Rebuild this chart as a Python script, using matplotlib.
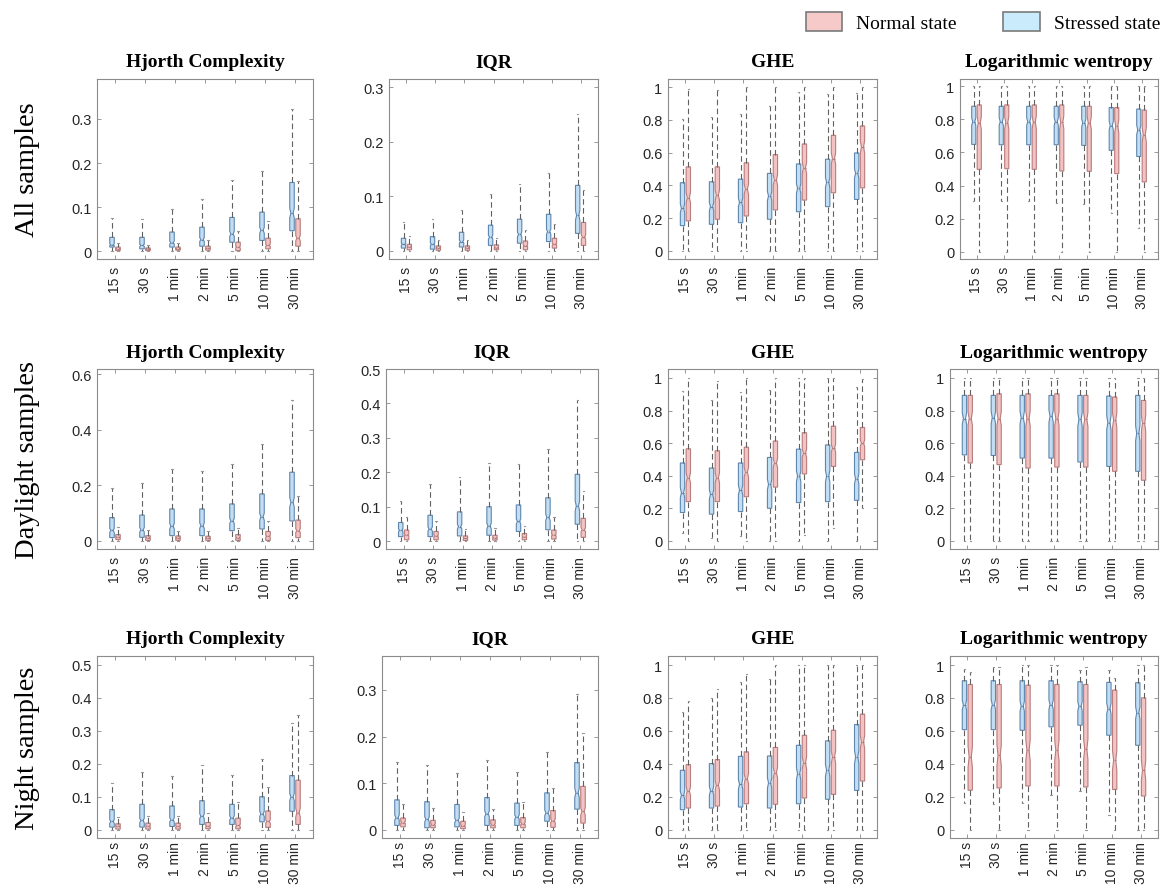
import matplotlib.pyplot as plt
from matplotlib.patches import Patch

groups = ['15 s', '30 s', '1 min', '2 min', '5 min', '10 min', '30 min']
titles = ['Hjorth Complexity', 'IQR', 'GHE', 'Logarithmic wentropy']
row_names = ['All samples', 'Daylight samples', 'Night samples']

# one row per window: [whisker low, q1, median, q3, whisker high]
all_hjorth_stressed = [[0, 0.010, 0.015, 0.032, 0.075], [0, 0.006, 0.014, 0.032, 0.074],
                       [0, 0.010, 0.020, 0.044, 0.096], [0, 0.012, 0.027, 0.055, 0.119],
                       [0, 0.021, 0.040, 0.077, 0.162], [0, 0.025, 0.048, 0.089, 0.181],
                       [0, 0.047, 0.087, 0.156, 0.322]]
all_hjorth_normal = [[0, 0.002, 0.006, 0.010, 0.020], [0, 0.002, 0.005, 0.008, 0.015],
                     [0, 0.003, 0.006, 0.010, 0.020], [0, 0.003, 0.007, 0.012, 0.025],
                     [0, 0.002, 0.010, 0.021, 0.046], [0, 0.006, 0.014, 0.030, 0.070],
                     [0, 0.012, 0.030, 0.074, 0.160]]
all_iqr_stressed = [[0, 0.005, 0.012, 0.023, 0.052], [0, 0.003, 0.012, 0.026, 0.058],
                    [0, 0.007, 0.017, 0.034, 0.075], [0, 0.010, 0.025, 0.047, 0.105],
                    [0, 0.014, 0.030, 0.058, 0.122], [0, 0.017, 0.035, 0.067, 0.142],
                    [0, 0.032, 0.065, 0.120, 0.250]]
all_iqr_normal = [[0, 0.002, 0.007, 0.012, 0.027], [0, 0.001, 0.005, 0.009, 0.020],
                  [0, 0.001, 0.005, 0.009, 0.020], [0, 0.002, 0.006, 0.011, 0.024],
                  [0, 0.002, 0.009, 0.018, 0.038], [0, 0.005, 0.012, 0.023, 0.050],
                  [0, 0.010, 0.025, 0.052, 0.111]]
all_ghe_stressed = [[0, 0.154, 0.260, 0.416, 0.807], [0, 0.162, 0.270, 0.422, 0.817],
                    [0, 0.172, 0.296, 0.438, 0.838], [0, 0.193, 0.335, 0.473, 0.888],
                    [0, 0.239, 0.381, 0.531, 0.970], [0, 0.270, 0.418, 0.560, 0.960],
                    [0, 0.314, 0.473, 0.598, 0.966]]
all_ghe_normal = [[0, 0.183, 0.325, 0.513, 0.990], [0, 0.193, 0.340, 0.513, 0.980],
                  [0, 0.213, 0.377, 0.538, 1.0], [0, 0.250, 0.432, 0.588, 1.0],
                  [0, 0.310, 0.507, 0.653, 1.0], [0, 0.355, 0.564, 0.706, 1.0],
                  [0, 0.385, 0.635, 0.763, 1.0]]
all_logw_stressed = [[0.307, 0.649, 0.787, 0.880, 1.0], [0.305, 0.647, 0.787, 0.880, 1.0],
                     [0.307, 0.647, 0.787, 0.880, 1.0], [0.297, 0.647, 0.787, 0.880, 1.0],
                     [0.291, 0.643, 0.779, 0.880, 1.0], [0.235, 0.613, 0.763, 0.872, 1.0],
                     [0.145, 0.576, 0.737, 0.863, 1.0]]
all_logw_normal = [[0, 0.498, 0.779, 0.888, 1.0], [0, 0.502, 0.780, 0.888, 1.0],
                   [0, 0.498, 0.783, 0.888, 1.0], [0, 0.488, 0.783, 0.888, 1.0],
                   [0, 0.486, 0.779, 0.880, 1.0], [0, 0.472, 0.759, 0.872, 1.0],
                   [0, 0.422, 0.707, 0.857, 1.0]]

day_hjorth_stressed = [[0, 0.012, 0.038, 0.084, 0.189], [0, 0.013, 0.040, 0.093, 0.207],
                       [0, 0.019, 0.053, 0.115, 0.259], [0, 0.019, 0.055, 0.115, 0.250],
                       [0, 0.037, 0.072, 0.133, 0.277], [0, 0.043, 0.087, 0.169, 0.349],
                       [0, 0.072, 0.139, 0.247, 0.507]]
day_hjorth_normal = [[0, 0.005, 0.013, 0.023, 0.050], [0, 0.002, 0.012, 0.019, 0.040],
                     [0, 0.002, 0.010, 0.018, 0.037], [0, 0.002, 0.010, 0.017, 0.037],
                     [0, 0.002, 0.012, 0.023, 0.047], [0, 0.002, 0.017, 0.034, 0.070],
                     [0, 0.012, 0.037, 0.075, 0.163]]
day_iqr_stressed = [[0, 0.013, 0.031, 0.054, 0.117], [0, 0.013, 0.035, 0.075, 0.167],
                    [0, 0.015, 0.042, 0.085, 0.187], [0, 0.017, 0.044, 0.100, 0.228],
                    [0, 0.028, 0.057, 0.105, 0.225], [0, 0.033, 0.069, 0.126, 0.269],
                    [0, 0.049, 0.102, 0.194, 0.409]]
day_iqr_normal = [[0, 0.004, 0.018, 0.032, 0.069], [0, 0.004, 0.015, 0.028, 0.059],
                  [0, 0.002, 0.008, 0.015, 0.035], [0, 0.003, 0.010, 0.017, 0.038],
                  [0, 0.004, 0.012, 0.022, 0.045], [0, 0.006, 0.018, 0.032, 0.071],
                  [0, 0.011, 0.033, 0.066, 0.146]]
day_ghe_stressed = [[0.05, 0.174, 0.296, 0.478, 0.923], [0.02, 0.164, 0.285, 0.447, 0.866],
                    [0.03, 0.180, 0.312, 0.478, 0.913], [0, 0.200, 0.346, 0.512, 0.927],
                    [0, 0.235, 0.397, 0.563, 1.0], [0, 0.241, 0.397, 0.589, 1.0],
                    [0, 0.249, 0.381, 0.543, 0.943]]
day_ghe_normal = [[0, 0.241, 0.387, 0.565, 1.0], [0, 0.241, 0.387, 0.553, 0.984],
                  [0, 0.271, 0.421, 0.575, 1.0], [0, 0.330, 0.478, 0.613, 1.0],
                  [0.038, 0.411, 0.538, 0.664, 1.0], [0.077, 0.457, 0.569, 0.704, 1.0],
                  [0.200, 0.498, 0.599, 0.696, 0.994]]
day_logw_stressed = [[0, 0.528, 0.751, 0.893, 1.0], [0, 0.524, 0.757, 0.893, 1.0],
                     [0, 0.508, 0.757, 0.893, 1.0], [0, 0.508, 0.765, 0.893, 1.0],
                     [0, 0.484, 0.745, 0.893, 1.0], [0, 0.457, 0.725, 0.889, 1.0],
                     [0, 0.427, 0.660, 0.893, 1.0]]
day_logw_normal = [[0, 0.478, 0.751, 0.893, 1.0], [0, 0.468, 0.751, 0.903, 1.0],
                   [0, 0.447, 0.751, 0.903, 1.0], [0, 0.453, 0.751, 0.903, 1.0],
                   [0, 0.453, 0.745, 0.893, 1.0], [0, 0.427, 0.741, 0.883, 1.0],
                   [0, 0.372, 0.721, 0.862, 1.0]]

night_hjorth_stressed = [[0, 0.008, 0.025, 0.061, 0.142], [0, 0.008, 0.028, 0.077, 0.175],
                         [0, 0.010, 0.030, 0.072, 0.163], [0, 0.016, 0.041, 0.088, 0.195],
                         [0, 0.016, 0.036, 0.077, 0.167], [0, 0.024, 0.048, 0.100, 0.215],
                         [0, 0.056, 0.099, 0.164, 0.323]]
night_hjorth_normal = [[0, 0.002, 0.010, 0.018, 0.038], [0, 0.002, 0.010, 0.020, 0.043],
                       [0, 0.002, 0.010, 0.020, 0.041], [0, 0.003, 0.010, 0.022, 0.050],
                       [0, 0.003, 0.013, 0.035, 0.084], [0, 0.007, 0.025, 0.057, 0.129],
                       [0, 0.016, 0.052, 0.150, 0.346]]
night_iqr_stressed = [[0, 0.009, 0.026, 0.064, 0.145], [0, 0.004, 0.022, 0.060, 0.138],
                      [0, 0.006, 0.020, 0.054, 0.122], [0, 0.009, 0.034, 0.069, 0.150],
                      [0, 0.009, 0.027, 0.057, 0.124], [0, 0.018, 0.036, 0.079, 0.167],
                      [0, 0.044, 0.079, 0.144, 0.292]]
night_iqr_normal = [[0, 0.006, 0.015, 0.025, 0.055], [0, 0.004, 0.011, 0.020, 0.047],
                    [0, 0.002, 0.008, 0.018, 0.038], [0, 0.004, 0.011, 0.021, 0.045],
                    [0, 0.004, 0.013, 0.026, 0.059], [0, 0.005, 0.019, 0.041, 0.090],
                    [0, 0.014, 0.039, 0.093, 0.208]]
night_ghe_stressed = [[0, 0.122, 0.209, 0.361, 0.716], [0, 0.132, 0.237, 0.402, 0.803],
                      [0, 0.138, 0.276, 0.446, 0.899], [0, 0.132, 0.284, 0.448, 0.913],
                      [0, 0.158, 0.340, 0.513, 1.0], [0, 0.185, 0.361, 0.540, 1.0],
                      [0, 0.239, 0.442, 0.639, 1.0]]
night_ghe_normal = [[0, 0.132, 0.235, 0.396, 0.783], [0, 0.144, 0.270, 0.426, 0.852],
                    [0, 0.158, 0.310, 0.473, 0.945], [0, 0.155, 0.347, 0.500, 1.0],
                    [0, 0.193, 0.406, 0.574, 1.0], [0, 0.215, 0.442, 0.604, 1.0],
                    [0, 0.296, 0.533, 0.702, 1.0]]
night_logw_stressed = [[0.162, 0.608, 0.757, 0.905, 0.976], [0.158, 0.608, 0.760, 0.905, 0.990],
                       [0.162, 0.604, 0.750, 0.905, 1.0], [0.209, 0.625, 0.760, 0.905, 1.0],
                       [0.233, 0.635, 0.750, 0.899, 0.970], [0.091, 0.574, 0.736, 0.895, 0.970],
                       [0, 0.513, 0.710, 0.893, 1.0]]
night_logw_normal = [[0, 0.240, 0.442, 0.882, 0.960], [0, 0.254, 0.452, 0.882, 0.990],
                     [0, 0.266, 0.483, 0.878, 1.0], [0, 0.266, 0.483, 0.882, 1.0],
                     [0, 0.260, 0.489, 0.882, 0.990], [0, 0.245, 0.422, 0.848, 0.923],
                     [0, 0.205, 0.361, 0.801, 1.0]]

panels = [
    [(all_hjorth_stressed, all_hjorth_normal), (all_iqr_stressed, all_iqr_normal),
     (all_ghe_stressed, all_ghe_normal), (all_logw_stressed, all_logw_normal)],
    [(day_hjorth_stressed, day_hjorth_normal), (day_iqr_stressed, day_iqr_normal),
     (day_ghe_stressed, day_ghe_normal), (day_logw_stressed, day_logw_normal)],
    [(night_hjorth_stressed, night_hjorth_normal), (night_iqr_stressed, night_iqr_normal),
     (night_ghe_stressed, night_ghe_normal), (night_logw_stressed, night_logw_normal)],
]

# axis limits / ticks per panel
ylims = [[(-0.017, 0.39), (-0.015, 0.315), (-0.05, 1.05), (-0.045, 1.045)],
         [(-0.029, 0.618), (-0.023, 0.5), (-0.05, 1.055), (-0.05, 1.055)],
         [(-0.025, 0.526), (-0.018, 0.373), (-0.05, 1.055), (-0.05, 1.055)]]
yticks = [[[0, 0.1, 0.2, 0.3], [0, 0.1, 0.2, 0.3], None, None],
          [[0, 0.2, 0.4, 0.6], [0, 0.1, 0.2, 0.3, 0.4, 0.5], None, None],
          [[0, 0.1, 0.2, 0.3, 0.4, 0.5], [0, 0.1, 0.2, 0.3], None, None]]

W, H = 1166, 887
col_px = [[(97, 313), (389, 598), (668, 877), (960, 1158)],
          [(97, 313), (386, 598), (668, 877), (950, 1158)],
          [(97, 313), (382, 598), (668, 877), (950, 1158)]]
row_px = [(80, 260), (370, 550), (657, 839)]
xpad = [5, 5, 2]

blue_fill, blue_edge = '#c2def4', '#5f86ad'
red_fill, red_edge = '#f3c3c3', '#b87c7c'
sans = ['Liberation Sans', 'DejaVu Sans']
serif = ['Liberation Serif', 'DejaVu Serif']


def make_stats(rows):
    out = []
    for lo, q1, med, q3, hi in rows:
        d = 0.1 * (q3 - q1)
        out.append(dict(whislo=lo, q1=q1, med=med, q3=q3, whishi=hi,
                        cilo=med - d, cihi=med + d, fliers=[]))
    return out


def draw(ax, rows, pos, fill, edge):
    ax.bxp(make_stats(rows), positions=pos, widths=0.15, shownotches=True,
           showfliers=False, patch_artist=True, capwidths=0.05,
           boxprops=dict(facecolor=fill, edgecolor=edge, linewidth=0.8),
           medianprops=dict(color=edge, linewidth=0.8),
           whiskerprops=dict(color='#606060', linestyle=(0, (5, 3)), linewidth=0.8),
           capprops=dict(color='#999999', linewidth=0.8))


fig = plt.figure(figsize=(W / 100, H / 100), dpi=100)
x = list(range(1, len(groups) + 1))

for r in range(3):
    y0, y1 = row_px[r]
    for c in range(4):
        x0, x1 = col_px[r][c]
        ax = fig.add_axes([x0 / W, 1 - y1 / H, (x1 - x0) / W, (y1 - y0) / H])
        stressed, normal = panels[r][c]
        draw(ax, stressed, [i - 0.1 for i in x], blue_fill, blue_edge)
        draw(ax, normal, [i + 0.1 for i in x], red_fill, red_edge)
        ax.set_xlim(0.4, 7.6)
        ax.set_ylim(*ylims[r][c])
        if yticks[r][c] is None:
            ax.set_yticks([0, 0.2, 0.4, 0.6, 0.8, 1])
            ax.set_yticklabels(['0', '0.2', '0.4', '0.6', '0.8', '1'])
        else:
            ax.set_yticks(yticks[r][c])
            ax.set_yticklabels(['0' if v == 0 else f'{v:g}' for v in yticks[r][c]])
        ax.set_xticks(x)
        ax.set_xticklabels(groups, rotation=90)
        for lab in ax.get_yticklabels():
            lab.set_family(sans)
            lab.set_fontsize(10.5)
            lab.set_color('#262626')
        for lab in ax.get_xticklabels():
            lab.set_family(sans)
            lab.set_fontsize(10)
            lab.set_color('#262626')
        ax.tick_params(direction='in', top=True, right=True, length=3,
                       color='#888888', width=0.6, pad=4)
        ax.tick_params(axis='x', pad=xpad[r])
        for s in ax.spines.values():
            s.set_color('#8c8c8c')
            s.set_linewidth(0.8)
        ax.set_title(titles[c], family=serif, fontweight='bold', fontsize=14, pad=9)
    fig.text(28 / W, 1 - (y0 + y1) / 2 / H, row_names[r], rotation=90,
             ha='center', va='center', family=serif, fontsize=20.5)

handles = [Patch(facecolor='#f7caca', edgecolor='#7a7a7a', linewidth=1.2),
           Patch(facecolor='#c9ebfb', edgecolor='#7a7a7a', linewidth=1.2)]
fig.legend(handles, ['Normal state', 'Stressed state'], ncol=2, loc='upper right',
           bbox_to_anchor=(1.01, 1.005), frameon=False, handlelength=1.9,
           handleheight=1.1, columnspacing=2.4, handletextpad=0.7,
           prop=dict(family=serif, size=14))

fig.savefig('out.png', dpi=100)
